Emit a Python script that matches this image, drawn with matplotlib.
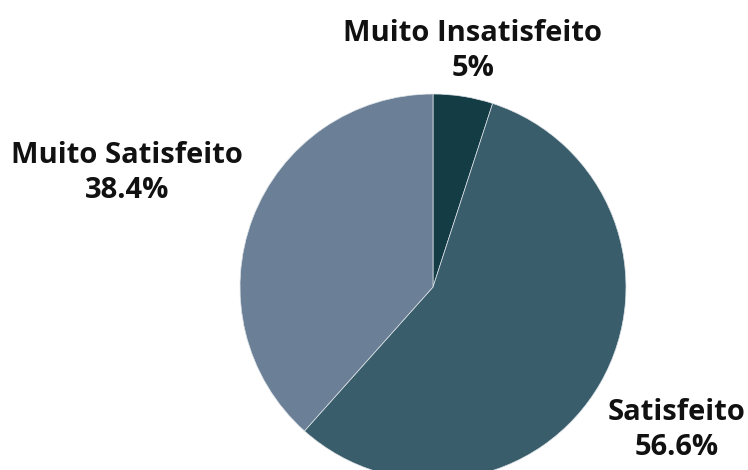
import matplotlib.pyplot as plt

# Satisfação dos respondentes
categorias = ['Muito Insatisfeito', 'Satisfeito', 'Muito Satisfeito']
percentuais = [5, 56.6, 38.4]
cores = ['#143c44', '#3a5d6b', '#6b8096']

# posição de cada rótulo (px, origem no canto inferior esquerdo)
pos_rotulos = [(473, 419), (677, 40), (127, 297)]

plt.rcParams['font.family'] = ['Open Sans', 'DejaVu Sans']

fig = plt.figure(figsize=(7.48, 4.70), dpi=100)
ax = fig.add_axes([0, 0, 1, 1])

ax.pie(percentuais, colors=cores, startangle=90, counterclock=False,
       center=(433, 183), radius=193, frame=True,
       wedgeprops=dict(edgecolor='#dde3e8', linewidth=0.5))
ax.set_xlim(0, 748)
ax.set_ylim(0, 470)
ax.set_aspect('equal')
ax.axis('off')

for cat, val, (x, y) in zip(categorias, percentuais, pos_rotulos):
    ax.text(x, y, f'{cat}\n{val:g}%', ha='center', va='center',
            fontsize=21, fontweight=700, color='#111111', linespacing=1.24)

fig.savefig('out.png', dpi=100)
